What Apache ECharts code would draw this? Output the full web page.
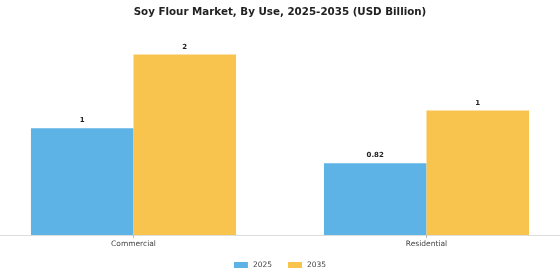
<!DOCTYPE html>
<html>
<head>
<meta charset="utf-8">
<script src="https://cdn.jsdelivr.net/npm/echarts@6/dist/echarts.min.js"></script>
<style>
  html, body { margin: 0; padding: 0; background: #fff; }
  #main { width: 560px; height: 280px; }
</style>
</head>
<body>
<div id="main"></div>
<script>
const categories = ['Commercial', 'Residential'];
const values2025 = [1.22, 0.82];
const values2035 = [2.06, 1.42];
const labels2025 = ['1', '0.82'];
const labels2035 = ['2', '1'];

const chart = echarts.init(document.getElementById('main'), null, { renderer: 'canvas' });

const barLabel = texts => ({
  show: true,
  position: 'top',
  distance: 4,
  fontFamily: 'DejaVu Sans',
  fontSize: 7,
  fontWeight: 'bold',
  color: '#222',
  formatter: p => texts[p.dataIndex]
});

chart.setOption({
  backgroundColor: '#fff',
  animation: false,
  title: {
    text: 'Soy Flour Market, By Use, 2025-2035 (USD Billion)',
    left: 'center',
    top: 2,
    textStyle: { fontFamily: 'DejaVu Sans', fontSize: 10.3, fontWeight: 'bold', color: '#222' }
  },
  legend: {
    bottom: 6,
    left: 'center',
    itemWidth: 14,
    itemHeight: 6,
    itemGap: 16,
    icon: 'rect',
    textStyle: { fontFamily: 'DejaVu Sans', fontSize: 7.5, color: '#444' },
    data: ['2025', '2035']
  },
  grid: { left: -13, right: -13, top: 16, bottom: 45, outerBoundsMode: 'none', containLabel: false },
  xAxis: {
    type: 'category',
    data: categories,
    axisLine: { lineStyle: { color: '#ddd' } },
    axisTick: { show: true, alignWithLabel: true, length: 3, lineStyle: { color: '#bbb' } },
    axisLabel: { fontFamily: 'DejaVu Sans', fontSize: 7.5, color: '#444', margin: 5 }
  },
  yAxis: {
    type: 'value',
    min: 0,
    max: 2.5,
    show: false,
    splitLine: { show: false }
  },
  series: [
    {
      name: '2025',
      type: 'bar',
      data: values2025,
      barGap: '0%',
      barCategoryGap: '30%',
      itemStyle: { color: '#5db3e6' },
      label: barLabel(labels2025)
    },
    {
      name: '2035',
      type: 'bar',
      data: values2035,
      itemStyle: { color: '#f9c44e' },
      label: barLabel(labels2035)
    }
  ]
});

window.onresize = () => {
  chart.resize();
};
</script>
</body>
</html>
